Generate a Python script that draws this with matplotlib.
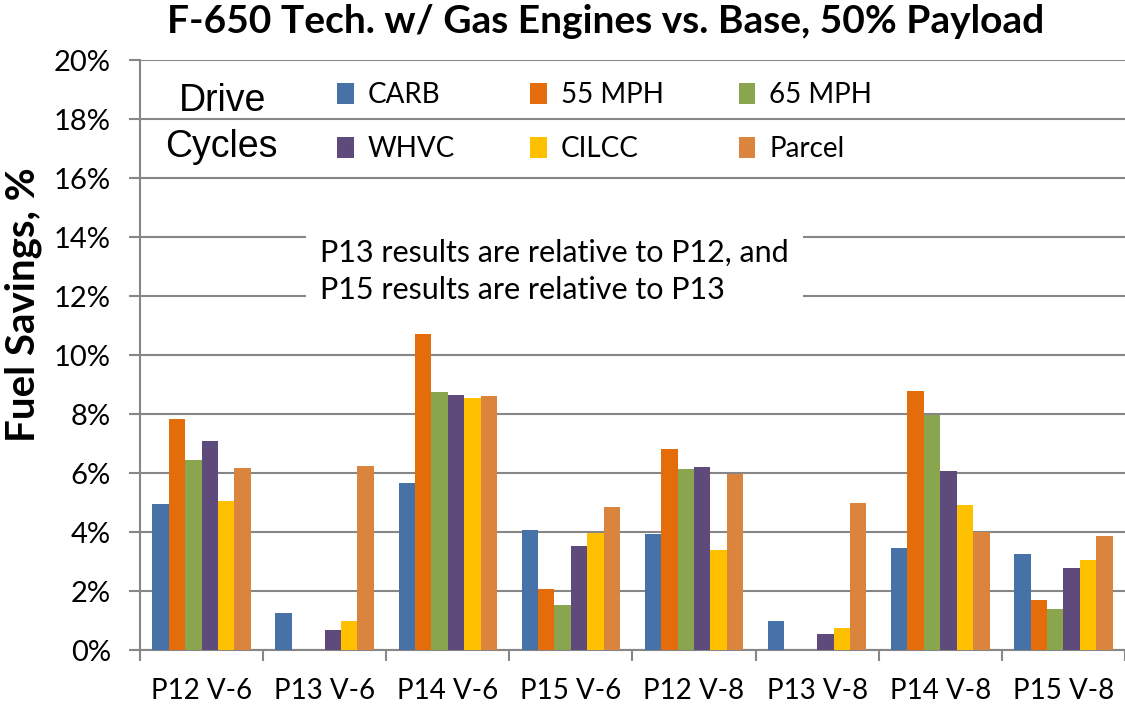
import matplotlib.pyplot as plt
import numpy as np

# categorias y series (en %)
categorias = ["P12 V-6", "P13 V-6", "P14 V-6", "P15 V-6", "P12 V-8", "P13 V-8", "P14 V-8", "P15 V-8"]
series = ["CARB", "55 MPH", "65 MPH", "WHVC", "CILCC", "Parcel"]
carb = [4.95, 1.26, 5.67, 4.08, 3.94, 1.00, 3.47, 3.26]
mph55 = [7.82, 0.0, 10.70, 2.07, 6.80, 0.0, 8.78, 1.70]
mph65 = [6.43, 0.0, 8.75, 1.53, 6.12, 0.0, 7.97, 1.39]
whvc = [7.08, 0.67, 8.63, 3.52, 6.19, 0.54, 6.07, 2.79]
cilcc = [5.05, 0.98, 8.55, 3.97, 3.39, 0.75, 4.92, 3.06]
parcel = [6.16, 6.23, 8.61, 4.85, 5.96, 5.00, 3.99, 3.87]
valores = [carb, mph55, mph65, whvc, cilcc, parcel]
colores = ["#4672A8", "#E46C0A", "#89A54E", "#5F4B7B", "#FFC000", "#DB843D"]

plt.rcParams['font.family'] = ['Lato', 'DejaVu Sans']

fig = plt.figure(figsize=(11.25, 7.06), dpi=100)
ax = fig.add_axes([0.1244, 0.0793, 0.8756, 0.8357])

x = np.arange(len(categorias))
ancho = 0.8 / len(series)
barras = []
for i, (nombre, vals) in enumerate(zip(series, valores)):
    b = ax.bar(x - 0.4 + ancho * (i + 0.5), vals, ancho, color=colores[i], label=nombre, zorder=3)
    barras.append(b)

ax.set_xlim(-0.5, len(categorias) - 0.5)
ax.set_ylim(0, 20)
ax.set_yticks(np.arange(0, 21, 2))
ax.set_yticklabels([f"{v}%" for v in range(0, 21, 2)], fontsize=21)
ax.set_xticks(x)
ax.set_xticklabels(categorias, fontsize=20)
ax.set_xticks(np.arange(-0.5, len(categorias)), minor=True)
ax.tick_params(axis='x', which='major', length=0, pad=20)
ax.tick_params(axis='x', which='minor', length=8, color='#868686', width=1.5)
ax.tick_params(axis='y', length=8, color='#868686', width=1.5, pad=13)

ax.yaxis.grid(True, color='#868686', linewidth=1.5, zorder=0)
for lado in ['top', 'right']:
    ax.spines[lado].set_visible(False)
ax.spines['left'].set_color('#868686')
ax.spines['left'].set_linewidth(1.5)
ax.spines['bottom'].set_color('#868686')
ax.spines['bottom'].set_linewidth(1.5)

ax.set_ylabel("Fuel Savings, %", fontsize=29, fontweight='bold')
ax.yaxis.set_label_coords(-0.099, 0.585)
fig.text(0.538, 0.969, "F-650 Tech. w/ Gas Engines vs. Base, 50% Payload", fontsize=28,
         fontweight='bold', ha='center', va='center')

# leyenda en dos filas (orden por columnas)
orden = [0, 3, 1, 4, 2, 5]
ley = ax.legend([barras[i] for i in orden], [series[i] for i in orden], ncol=3, frameon=False,
                fontsize=20, loc='upper left', bbox_to_anchor=(0.175, 1.005),
                handlelength=0.6, handleheight=0.8, handletextpad=0.5,
                columnspacing=2.7, labelspacing=1.0)
ax.text(0.084, 0.93, "Drive", transform=ax.transAxes, fontsize=27, family='Liberation Sans', ha='center', va='center')
ax.text(0.083, 0.852, "Cycles", transform=ax.transAxes, fontsize=27, family='Liberation Sans', ha='center', va='center')

ax.text(0.183, 0.642, "P13 results are relative to P12, and\nP15 results are relative to P13",
        transform=ax.transAxes, fontsize=22, ha='left', va='center', linespacing=1.4,
        bbox=dict(facecolor='white', edgecolor='none', pad=10), zorder=4)

fig.savefig("out.png", dpi=100)
